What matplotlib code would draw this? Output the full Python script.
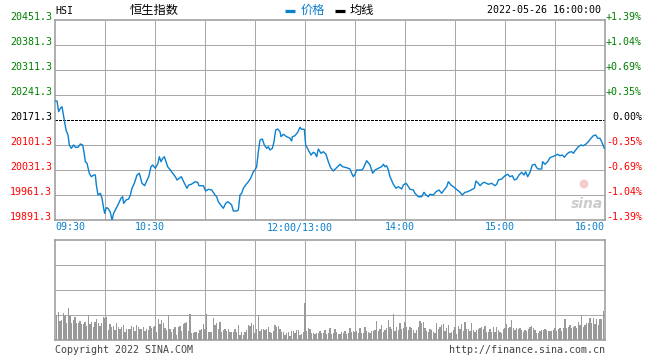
import numpy as np
import matplotlib
matplotlib.use("Agg")
import matplotlib.pyplot as plt
import matplotlib.transforms as mtransforms
from matplotlib.lines import Line2D
from matplotlib.patches import Ellipse

# ---- data ----
prev_close = 20171.3
price_levels = [19891.3, 19961.3, 20031.3, 20101.3, 20171.3, 20241.3, 20311.3, 20381.3, 20451.3]
time_ticks = [0, 60, 150, 210, 270, 330]
time_labels = ["09:30", "10:30", "12:00/13:00", "14:00", "15:00", "16:00"]

# minutes since 09:30 (trading time, lunch removed) and index level
minutes = [0, 1.2, 2.2, 3.2, 4.2, 5.6, 6.6, 7.8, 8.6, 9.8, 11.2, 12.2, 13.8, 15.2, 16.6,
           17.2, 18.2, 19.2, 20.6, 21.8, 23.2, 24.2, 24.8, 25.8, 27.2, 28.2, 29.2, 29.8, 30.8, 31.8,
           33.2, 34.2, 35.2, 37.2, 38.2, 39.6, 40.6, 41.2, 42.6, 44.2, 45.2, 46.2, 47.6, 49.2, 50.6,
           52.2, 53.8, 54.8, 56.2, 57.6, 58.6, 60.2, 61.8, 62.6, 63.6, 64.6, 65.6, 66.6, 67.6, 69.2,
           70.6, 72.2, 73.2, 74.6, 75.8, 77.2, 79.2, 80.2, 81.8,
           84, 85.6, 86.4, 89, 90.4, 92, 94, 96, 97, 98, 99.4, 101, 102.4, 103.6, 105,
           106, 107, 109, 110, 111, 112, 113, 114.4, 116, 117.4, 119, 120, 121, 122, 123,
           124.4, 125.6, 127, 128, 129, 130.4, 131.4, 132.4, 133.6, 135, 135.6, 137, 139, 141, 142,
           142.4, 144, 145.6, 147, 148, 149.6, 150.4, 152, 153.6, 155, 156, 157, 158, 159.6, 161,
           162.6, 164, 165.4, 167, 169, 171, 172.6, 175, 177, 178, 179, 180, 181, 184, 185,
           187, 189, 190.6, 192, 194, 196, 197, 198, 199, 200, 201, 203, 204.6, 206, 207,
           208, 209, 210.6, 211.4, 213, 215, 216, 218, 220, 221.4, 222.6, 224, 225, 227, 228.6,
           230.4, 232, 233.4, 235, 236, 237.6, 239, 240.6,
           242, 243, 244.4, 246, 247.6, 249.6, 251.6, 252.6, 254, 255, 256.4, 257.6, 260, 262, 264,
           265, 266, 268, 270, 271.6, 273, 274.4, 275.6, 277, 278.4, 280, 281.4, 282.4, 283.6, 285,
           286.4, 288, 289, 290, 292, 292.6, 294, 295.6, 297, 298.4, 300, 301.6, 303, 304.4, 305.6,
           307, 308.4, 310, 311, 312.4, 314, 315.6, 317, 318.4, 320, 321.6, 323, 324.4, 325.6, 327,
           328, 329.6]
price = [20224.5, 20224.5, 20194.6, 20204.1, 20208.5, 20171.3, 20143.3, 20129.3, 20101.3, 20092.0,
         20101.3, 20094.9, 20094.9, 20104.1, 20101.3, 20087.3, 20054.5, 20050.1, 20022.1, 20012.5,
         20017.3, 20017.3, 19989.3, 19961.3, 19966.1, 19952.1, 19924.1, 19910.1, 19925.7, 19924.1,
         19912.9, 19891.3, 19910.1, 19928.5, 19937.9, 19952.1, 19956.5, 19937.9, 19947.3, 19950.1,
         19961.3, 19980.1, 19994.1, 20017.3, 20022.1, 19994.1, 19987.3, 19998.5, 20012.5, 20040.5,
         20045.3, 20036.1, 20050.1, 20068.5, 20054.5, 20064.1, 20068.5, 20054.5, 20040.5, 20031.3,
         20022.1, 20012.5, 20003.3, 20008.1, 20012.5, 19998.5, 19980.1, 19989.3, 19991.3,
         19998.5, 19996.9, 19987.3, 19987.3, 19972.5, 19977.3, 19975.3, 19961.3, 19956.5, 19942.5,
         19933.3, 19924.1, 19937.9, 19942.5, 19937.9, 19933.3, 19916.5, 19916.5, 19919.3, 19961.3,
         19966.1, 19980.1, 19989.3, 19998.5, 20008.1, 20026.5, 20031.3, 20040.5, 20082.5, 20115.3,
         20118.1, 20101.3, 20092.0, 20096.5, 20087.3, 20092.0, 20110.5, 20143.3, 20146.1, 20138.5,
         20124.5, 20131.3, 20124.5, 20120.1, 20112.5, 20124.5, 20127.3, 20136.9, 20150.9, 20145.3,
         20145.3, 20101.3, 20087.3, 20073.3, 20080.9, 20078.1, 20068.5, 20090.1, 20078.1, 20082.5,
         20075.3, 20054.5, 20037.7, 20028.5, 20037.7, 20047.3, 20040.5, 20037.7, 20034.1, 20022.1,
         20012.5, 20019.3, 20031.3, 20031.3, 20036.1, 20057.3, 20045.3, 20022.1, 20031.3, 20036.1,
         20040.5, 20047.3, 20040.5, 20043.3, 20031.3, 20012.5, 19991.3, 19980.1, 19984.5, 19981.7,
         19978.1, 19989.3, 19994.1, 19989.3, 19977.3, 19975.3, 19966.1, 19956.5, 19956.5, 19968.9,
         19961.3, 19956.5, 19963.3, 19961.3, 19970.5, 19975.3, 19966.1, 19975.3, 19984.5, 19998.5,
         19989.3, 19984.5, 19978.1,
         19972.5, 19968.9, 19961.3, 19968.9, 19970.5, 19975.3, 19980.1, 20000.5, 19994.1, 19987.3,
         19994.1, 19996.9, 19991.3, 19994.1, 19987.3, 19991.3, 20003.3, 20006.1, 20015.3, 20019.3,
         20012.5, 20015.3, 20003.3, 20006.1, 20017.3, 20024.9, 20017.3, 20026.5, 20012.5, 20024.9,
         20045.3, 20047.3, 20037.7, 20034.1, 20034.1, 20054.5, 20047.3, 20054.5, 20065.7, 20068.5,
         20071.3, 20075.3, 20071.3, 20073.3, 20066.9, 20075.3, 20080.9, 20082.5, 20078.1, 20087.3,
         20096.5, 20101.3, 20099.3, 20103.3, 20110.5, 20120.1, 20127.3, 20129.3, 20120.1, 20120.1,
         20110.5, 20092.0]

# per-minute volume (relative units, axis full height = 100)
volume = [75, 85, 58, 60, 80, 72, 52, 95, 72, 52, 60, 68, 52, 50, 57, 48, 48, 53, 42, 74,
          48, 54, 38, 54, 62, 52, 42, 52, 70, 65, 68, 30, 48, 38, 42, 30, 50, 38, 32, 38,
          45, 25, 32, 32, 32, 42, 38, 28, 44, 38, 32, 34, 38, 28, 34, 30, 42, 35, 38, 42,
          25, 62, 48, 60, 52, 35, 30, 74, 32, 25, 34, 38, 15, 38, 42, 28, 48, 52, 54, 28,
          78, 20, 22, 24, 24, 22, 30, 32, 48, 32, 78, 24, 24, 24, 66, 44, 52, 32, 54, 24,
          30, 32, 28, 32, 24, 25, 25, 32, 25, 44, 16, 24, 14, 24, 30, 44, 42, 52, 44, 22,
          32, 74, 28, 32, 32, 30, 32, 38, 24, 22, 28, 44, 40, 42, 32, 24, 24, 16, 20, 24,
          12, 28, 28, 22, 30, 30, 16, 18, 24, 110, 28, 35, 32, 22, 20, 18, 22, 22, 26, 22,
          22, 30, 18, 20, 35,
          18, 22, 32, 25, 18, 18, 24, 20, 27, 18, 20, 35, 25, 28, 25, 28, 22, 35, 22, 20,
          38, 28, 25, 22, 28, 28, 30, 57, 28, 32, 44, 25, 30, 35, 60, 38, 32, 78, 28, 38,
          30, 52, 32, 35, 55, 38, 30, 40, 35, 30, 22, 30, 38, 57, 52, 55, 35, 28, 24, 32,
          30, 24, 22, 50, 32, 38, 45, 48, 28, 35, 45, 20, 24, 30, 38, 18, 42, 32, 48, 28,
          55, 32, 34, 28, 52, 30, 25, 30, 32, 35, 38, 32, 42, 25, 25, 32, 24, 38, 25, 38,
          30, 25, 22, 32, 35, 48, 35, 38, 60, 35, 30, 35, 32, 35, 30, 24, 30, 28, 32, 38,
          42, 35, 30, 22, 22, 28, 30, 30, 32, 30, 28, 28, 28, 30, 35, 28, 32, 35, 28, 35,
          63, 35, 38, 45, 35, 38, 42, 35, 55, 45, 72, 38, 45, 52, 50, 65, 52, 65, 48, 62,
          45, 62, 64, 88]
volume = [v / 3.0 for v in volume]

MONO = ["DejaVu Sans Mono", "Noto Sans CJK SC"]
CJK = ["Noto Sans CJK SC", "DejaVu Sans"]
GREEN = "#008000"
RED = "#ff0000"
BLUE = "#0a80d0"
GRID = "#a8a8a8"
EDGE = "#999999"
FS = 7.2

W, H = 660, 360
fig = plt.figure(figsize=(W / 100, H / 100), dpi=100)
fig.patch.set_facecolor("white")


def fx(x):
    return x / W


def fy(y):
    return 1 - y / H


ax = fig.add_axes([fx(55), fy(220), fx(605) - fx(55), 200 / H])
ax2 = fig.add_axes([fx(55), fy(340), fx(605) - fx(55), 100 / H])

dots = dict(color=GRID, lw=0.72, ls=(0, (1, 1)), zorder=1, antialiased=False)
for a in (ax, ax2):
    a.set_xlim(0, 330)
    a.set_xticks([])
    a.set_yticks([])
    for s in a.spines.values():
        s.set_color(EDGE)
        s.set_linewidth(1.1)
    for t in range(30, 330, 30):
        a.axvline(t, **dots)

ax.set_ylim(price_levels[0], price_levels[-1])
ax2.set_ylim(0, 100)
for p in price_levels[1:-1]:
    if p == prev_close:
        ax.axhline(p, color="black", lw=0.8, ls=(0, (2.5, 1.5)), zorder=2, antialiased=False)
    else:
        ax.axhline(p, **dots)
for v in (25, 50, 75):
    ax2.axhline(v, **dots)

ax.plot(minutes, price, color=BLUE, lw=1.0, zorder=3)
ax2.bar(np.arange(1, len(volume) + 1), volume, width=0.65, color="#999999", lw=0, zorder=2)

# y labels left (price) and right (change %)
tl = mtransforms.blended_transform_factory(fig.transFigure, ax.transData)
for p in price_levels:
    c = GREEN if p > prev_close else (RED if p < prev_close else "black")
    fig.text(fx(52), p, f"{p:.1f}", transform=tl, ha="right", va="baseline",
             color=c, fontsize=FS, family=MONO)
    pct = (p - prev_close) / prev_close * 100
    s = f"{pct:+.2f}%" if abs(pct) > 0.001 else "0.00%"
    fig.text(fx(642), p, s, transform=tl, ha="right", va="baseline",
             color=c, fontsize=FS, family=MONO)

# x labels
tx = mtransforms.blended_transform_factory(ax.transData, fig.transFigure)
for t, lab in zip(time_ticks, time_labels):
    if t == 0:
        fig.text(t, fy(222.5), lab, transform=tx, ha="left", va="top", color=BLUE,
                 fontsize=FS, family=MONO)
    elif t == 330:
        fig.text(t, fy(222.5), lab, transform=tx, ha="right", va="top", color=BLUE,
                 fontsize=FS, family=MONO)
    else:
        fig.text(t - 3.3, fy(222.5), lab, transform=tx, ha="center", va="top", color=BLUE,
                 fontsize=FS, family=MONO)

# header
fig.text(fx(55), fy(13.5), "HSI", ha="left", va="baseline", fontsize=FS, family=MONO)
fig.text(fx(130), fy(10), "恒生指数", ha="left", va="center", fontsize=8.8, family=CJK)
fig.add_artist(Line2D([fx(285), fx(295)], [fy(11.3), fy(11.3)], color=BLUE, lw=2.3,
                      solid_capstyle="butt"))
fig.text(fx(301), fy(10), "价格", ha="left", va="center", fontsize=8.8, family=CJK, color=BLUE)
fig.add_artist(Line2D([fx(335), fx(345)], [fy(11.3), fy(11.3)], color="black", lw=2.3,
                      solid_capstyle="butt"))
fig.text(fx(350), fy(10), "均线", ha="left", va="center", fontsize=8.8, family=CJK)
fig.text(fx(601), fy(13), "2022-05-26 16:00:00", ha="right", va="baseline",
         fontsize=FS, family=MONO)

# footer
fig.text(fx(55), fy(353), "Copyright 2022 SINA.COM", ha="left", va="baseline",
         fontsize=FS, family=MONO, color="#444444")
fig.text(fx(605), fy(353), "http://finance.sina.com.cn", ha="right", va="baseline",
         fontsize=FS, family=MONO, color="#444444")

# watermark
fig.add_artist(Ellipse((fx(584), fy(184)), 9 / W, 9 / H, transform=fig.transFigure,
                       facecolor="#f6cccc", edgecolor="none", zorder=0.5))
fig.text(fx(587), fy(204), "sina", ha="center", va="center", fontsize=10,
         fontweight="bold", style="italic", color="#cccccc", family="DejaVu Sans", zorder=0.5)

fig.savefig("out.png", dpi=100)
